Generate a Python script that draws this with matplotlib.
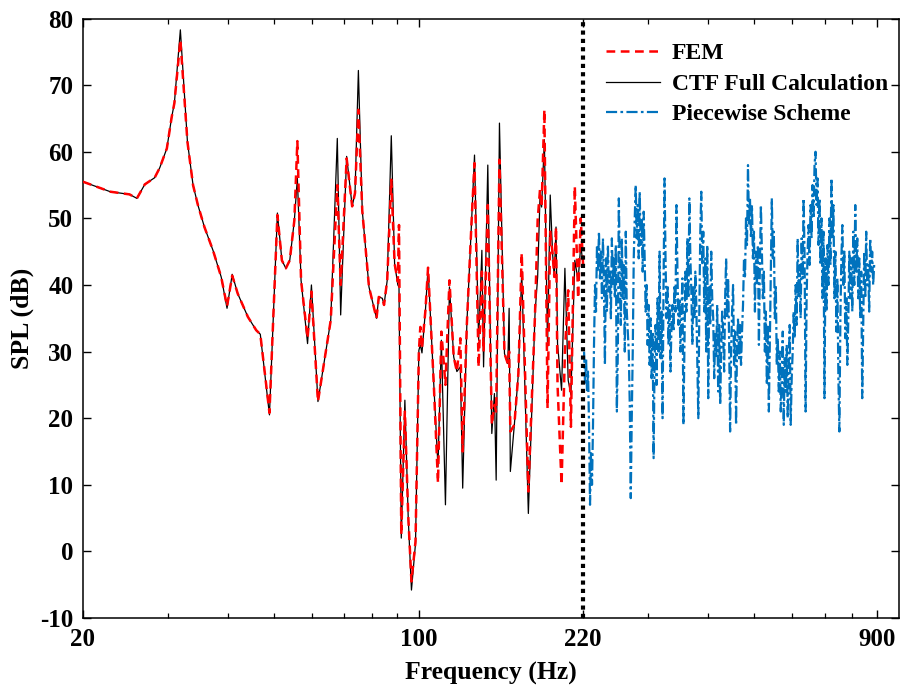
import matplotlib
import matplotlib.pyplot as plt
from matplotlib.ticker import FixedLocator, NullFormatter
import numpy as np

matplotlib.use('Agg')

# ---- data ----
freq = [20.0, 22.8, 25.0, 25.9, 26.9, 28.2, 28.9, 29.9, 30.6, 31.0,
        31.9, 33.0, 33.9, 34.7, 35.8, 37.3, 38.8, 39.9, 40.9, 42.0,
        44.1, 45.9, 46.8, 48.9, 50.8, 51.9, 52.9, 53.9, 55.1, 55.9,
        56.9, 58.7, 59.8, 61.7, 65.6, 67.7, 68.8, 70.8, 72.7, 73.7,
        74.9, 76.3, 77.6, 78.8, 81.7, 82.6, 84.0, 84.7, 86.0, 87.7,
        89.1, 90.5, 91.0, 92.0, 93.6, 95.1, 96.6, 98.5, 100.1, 100.8,
        101.6, 103.3, 104.6, 107.5, 109.7, 111.5, 113.7, 115.9, 118.3, 120.1,
        122.1, 123.5, 126.0, 129.0, 130.7, 133.3, 135.4, 136.5, 139.3, 142.0,
        143.8, 145.0, 147.3, 150.9, 153.3, 154.3, 155.2, 158.2, 161.3, 163.9,
        169.2, 174.7, 176.9, 178.9, 180.3, 182.7, 185.5, 187.9, 190.0, 191.6,
        193.2, 194.6, 198.4, 201.6, 204.8, 207.5, 211.4, 214.8, 217.5, 220.0]

ctf_db = [55.5, 54.0, 53.6, 53.0, 55.1, 56.1, 57.6, 60.5, 65.2, 67.3,
          78.3, 61.5, 55.0, 52.0, 48.7, 45.2, 41.2, 36.5, 41.6, 38.7,
          35.2, 33.2, 32.6, 20.5, 50.8, 43.7, 42.5, 43.7, 49.7, 56.0,
          40.7, 31.2, 40.0, 22.5, 34.7, 62.0, 35.5, 59.3, 51.8, 53.8,
          72.2, 51.2, 45.2, 39.7, 35.0, 38.2, 38.0, 37.0, 40.7, 62.4,
          43.2, 40.0, 39.7, 2.0, 22.7, 5.2, -5.8, 1.2, 30.2, 31.0,
          29.8, 36.2, 42.6, 25.2, 12.7, 31.7, 7.0, 39.7, 29.2, 27.0,
          27.7, 9.5, 34.2, 50.2, 59.5, 31.7, 45.2, 27.7, 58.0, 17.7,
          23.7, 10.7, 64.3, 29.7, 28.2, 36.5, 12.0, 19.0, 26.7, 42.0,
          5.7, 35.7, 41.2, 53.2, 51.7, 61.8, 30.7, 53.5, 44.8, 41.2,
          48.7, 31.2, 24.2, 42.5, 25.7, 23.5, 43.7, 40.7, 46.0, 43.0]

fem_db = [55.5, 54.0, 53.6, 53.0, 55.1, 56.1, 57.6, 60.5, 65.2, 67.3,
          76.8, 61.5, 55.0, 52.0, 48.7, 45.2, 41.2, 36.8, 41.4, 38.7,
          35.2, 33.2, 32.6, 20.8, 50.5, 43.7, 42.5, 43.7, 49.7, 61.6,
          40.7, 32.0, 39.0, 22.5, 34.7, 55.0, 40.0, 59.0, 51.8, 53.8,
          66.3, 51.2, 45.2, 39.7, 35.0, 38.2, 38.0, 37.0, 40.7, 55.8,
          43.2, 40.5, 49.0, 2.5, 21.0, 5.5, -4.5, 1.5, 30.0, 33.7,
          30.5, 36.2, 42.6, 25.2, 10.3, 33.0, 25.0, 40.7, 29.2, 27.0,
          32.0, 15.0, 34.2, 50.2, 58.3, 27.7, 42.0, 30.0, 52.0, 19.0,
          22.0, 21.0, 58.8, 29.7, 28.2, 30.0, 18.0, 19.0, 26.7, 44.8,
          9.0, 35.7, 49.7, 54.3, 51.7, 66.3, 21.5, 48.0, 44.8, 41.2,
          48.7, 25.0, 10.0, 30.0, 39.2, 18.7, 54.8, 38.0, 50.0, 43.0]

# piecewise scheme, 220 - 890 Hz
pw_db = [30, 25, 29, 24, 27, 19, 7, 15, 10, 19,
         31, 40, 36, 46, 42, 48, 41, 45, 38, 47,
         40, 28, 44, 36, 46, 39, 42, 35, 47, 40,
         44, 38, 46, 21, 30, 53, 41, 34, 47, 38,
         43, 30, 48, 36, 33, 30, 22, 8, 20, 30,
         44, 50, 55, 47, 52, 44, 54, 46, 50, 42,
         51, 44, 36, 40, 31, 37, 28, 35, 26, 33,
         14, 29, 34, 25, 38, 30, 45, 29, 36, 20,
         40, 56, 44, 35, 40, 31, 37, 27, 34, 37,
         33, 40, 36, 52, 42, 34, 38, 30, 36, 41,
         19, 30, 42, 36, 47, 38, 53, 44, 39, 31,
         40, 35, 42, 37, 28, 20, 36, 48, 54, 43,
         48, 36, 44, 30, 46, 23, 40, 34, 45, 38,
         35, 26, 33, 29, 37, 24, 34, 22, 30, 36,
         33, 27, 38, 44, 35, 41, 32, 18, 30, 36,
         40, 28, 33, 19, 31, 35, 29, 34, 28, 33,
         37, 44, 41, 50, 46, 58, 49, 53, 47, 52,
         44, 48, 36, 45, 40, 46, 31, 43, 52, 45,
         38, 42, 30, 36, 25, 34, 21, 31, 42, 53,
         44, 48, 35, 40, 28, 32, 24, 30, 21, 27,
         33, 19, 29, 24, 31, 20, 28, 34, 19, 26,
         30, 36, 32, 40, 34, 47, 38, 43, 35, 47,
         41, 53, 44, 21, 38, 45, 49, 43, 52, 47,
         55, 50, 58, 60, 52, 56, 46, 53, 43, 50,
         38, 48, 23, 44, 36, 46, 40, 50, 43, 56,
         47, 52, 38, 45, 33, 41, 26, 18, 35, 44,
         49, 40, 45, 32, 38, 28, 35, 45, 38, 44,
         36, 48, 40, 52, 42, 47, 38, 44, 35, 42,
         23, 34, 45, 38, 48, 40, 43, 36, 47, 42,
         45, 40, 43]
pw_freq = np.geomspace(221, 888, len(pw_db))

split_freq = 220
xticks = [20, 100, 220, 900]
xminor = [30, 40, 50, 60, 70, 80, 90, 300, 400, 500, 600, 700, 800]
yticks = list(range(-10, 81, 10))

# ---- plot ----
plt.rcParams['font.family'] = 'Liberation Serif'
plt.rcParams['font.weight'] = 'bold'
plt.rcParams['axes.unicode_minus'] = False

fig = plt.figure(figsize=(9.01, 6.91), dpi=100)
ax = fig.add_axes([0.0921, 0.1056, 0.9056, 0.8676])

h_ctf, = ax.plot(freq, ctf_db, color='black', linewidth=0.9, zorder=2,
                 label='CTF Full Calculation')
h_fem, = ax.plot(freq, fem_db, color='red', linestyle=(0, (3.5, 2.2)),
                 linewidth=1.8, zorder=3, label='FEM')
h_pw, = ax.plot(pw_freq, pw_db, color='#0072BD', linestyle=(0, (5, 1.5, 1.2, 1.5)),
                linewidth=1.6, zorder=2, label='Piecewise Scheme')
ax.axvline(split_freq, color='black', linestyle=(0, (1, 1)), linewidth=3, zorder=4)

ax.set_xscale('log')
ax.set_xlim(20, 1000)
ax.set_ylim(-10, 80)
ax.xaxis.set_major_locator(FixedLocator(xticks))
ax.xaxis.set_minor_locator(FixedLocator(xminor))
ax.xaxis.set_minor_formatter(NullFormatter())
ax.set_xticklabels([str(t) for t in xticks])
ax.set_yticks(yticks)

ax.tick_params(which='both', direction='in', top=True, right=True,
               labelsize=18, pad=7)
ax.tick_params(which='major', length=6, width=1)
ax.tick_params(which='minor', length=3.5, width=0.9)
for s in ax.spines.values():
    s.set_linewidth(1.1)

ax.set_xlabel('Frequency (Hz)', fontsize=18.5, fontweight='bold', labelpad=8)
ax.set_ylabel('SPL (dB)', fontsize=18.5, fontweight='bold', labelpad=4)

ax.legend(handles=[h_fem, h_ctf, h_pw], loc='upper left',
          bbox_to_anchor=(0.626, 0.979), frameon=False,
          borderpad=0, handlelength=2.3, handletextpad=0.5,
          labelspacing=0.38, prop={'weight': 'bold', 'size': 17})

fig.savefig('out.png', dpi=100)
